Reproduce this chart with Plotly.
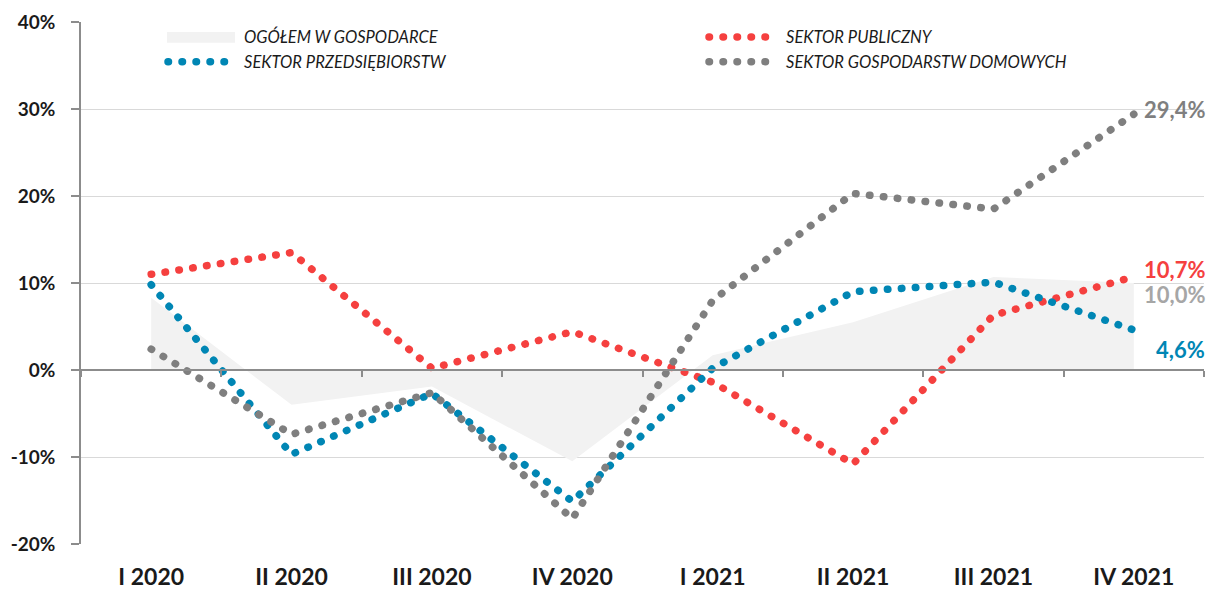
import plotly.graph_objects as go

quarters = ["I 2020", "II 2020", "III 2020", "IV 2020", "I 2021", "II 2021", "III 2021", "IV 2021"]
overall = [8.3, -4.0, -1.9, -10.5, 1.7, 5.5, 10.7, 10.0]
public = [11.0, 13.5, 0.2, 4.4, -1.4, -10.8, 6.3, 10.7]
enterprise = [9.8, -9.7, -2.7, -15.1, 0.2, 9.0, 10.1, 4.6]
households = [2.4, -7.4, -2.6, -17.1, 8.0, 20.3, 18.5, 29.4]

y_ticks = [-20, -10, 0, 10, 20, 30, 40]
y_tick_text = ["-20%", "-10%", "0%", "10%", "20%", "30%", "40%"]

names = ["OGÓŁEM W GOSPODARCE", "SEKTOR PUBLICZNY", "SEKTOR PRZEDSIĘBIORSTW",
         "SEKTOR GOSPODARSTW DOMOWYCH"]
end_labels = ["10,0%", "10,7%", "4,6%", "29,4%"]

RED = "#f5403f"
BLUE = "#0086b4"
GRAY = "#7f7f7f"
AREA = "#f2f2f2"
AXIS = "#8c8c8c"
TXT = "#1a1a1a"
DOTS = "0.5px,13.5px"

fig = go.Figure()
fig.add_trace(go.Scatter(x=quarters, y=overall, name=names[0], mode="lines",
                         fill="tozeroy", fillcolor=AREA, line=dict(width=0, color=AREA),
                         hoverinfo="skip"))
for nm, vals, col in [(names[1], public, RED), (names[2], enterprise, BLUE),
                      (names[3], households, GRAY)]:
    fig.add_trace(go.Scatter(x=quarters, y=vals, name=nm, mode="lines", xaxis="x2",
                             line=dict(color=col, width=7.5, dash=DOTS)))

# labels at the right end
label_specs = [
    (end_labels[3], households[-1], GRAY, 5),
    (end_labels[1], public[-1], RED, 7),
    (end_labels[0], overall[-1], "#a6a6a6", -11),
    (end_labels[2], enterprise[-1], BLUE, -20),
]
for txt, val, col, dy in label_specs:
    fig.add_annotation(x=1, xref="paper", y=val, yref="y", text=txt, showarrow=False,
                       xanchor="right", xshift=3, yshift=dy,
                       font=dict(family="Lato", size=22, color=col, weight="bold"))

# hand-made legend (swatches and texts)
W, H, L, B = 1123.0, 526.0, 81.0, 548.0
px = lambda v: (v - L) / W
py = lambda v: (B - v) / H

fig.add_shape(type="rect", xref="paper", yref="paper", x0=px(167), x1=px(235),
              y0=py(43), y1=py(32), fillcolor=AREA, line=dict(width=0))
legend_lines = [(168, 225, 62, BLUE), (709, 766, 37, RED), (709, 766, 62, GRAY)]
for x0, x1, yy, col in legend_lines:
    fig.add_shape(type="line", xref="paper", yref="paper", x0=px(x0), x1=px(x1),
                  y0=py(yy), y1=py(yy), line=dict(color=col, width=7.5, dash=DOTS))
legend_texts = [(242, 37, names[0]), (242, 62, names[2]), (784, 37, names[1]),
                (784, 62, names[3])]
for xx, yy, txt in legend_texts:
    fig.add_annotation(x=px(xx), y=py(yy), xref="paper", yref="paper", text="<i>" + txt + "</i>",
                       showarrow=False, xanchor="left", yanchor="middle",
                       font=dict(family="Lato", size=16.5, color=TXT))

fig.update_layout(
    width=1208, height=594,
    margin=dict(l=81, r=4, t=22, b=46),
    plot_bgcolor="white", paper_bgcolor="white",
    showlegend=False,
    xaxis=dict(type="category", range=[-0.5, 7.5], showgrid=False, zeroline=False,
               ticks="", ticklabelstandoff=17,
               tickfont=dict(family="Lato", size=23, color=TXT, weight="bold")),
    xaxis2=dict(type="category", range=[-0.5, 7.5], overlaying="x", anchor="free",
                position=1 / 3, showgrid=False, zeroline=False, showline=True,
                linecolor=AXIS, linewidth=1.5, ticks="outside", tickson="boundaries",
                ticklen=6, tickcolor=AXIS, tickwidth=1.5, showticklabels=False),
    yaxis=dict(range=[-20, 40], tickvals=y_ticks, ticktext=y_tick_text,
               showgrid=True, gridcolor="#d9d9d9", gridwidth=1.3, zeroline=False,
               showline=True, linecolor=AXIS, linewidth=1.5, ticks="outside",
               ticklen=8, tickcolor=AXIS, tickwidth=1.5, ticklabelstandoff=12,
               tickfont=dict(family="Lato", size=19, color=TXT, weight="bold")),
)

page_css = ("var s=document.createElement('style');"
            "s.textContent='body{margin:0;} .js-line, .shapelayer path{stroke-linecap:round !important;}';"
            "document.head.appendChild(s);")
fig.write_html("out.html", post_script=page_css, config={"displayModeBar": False})
